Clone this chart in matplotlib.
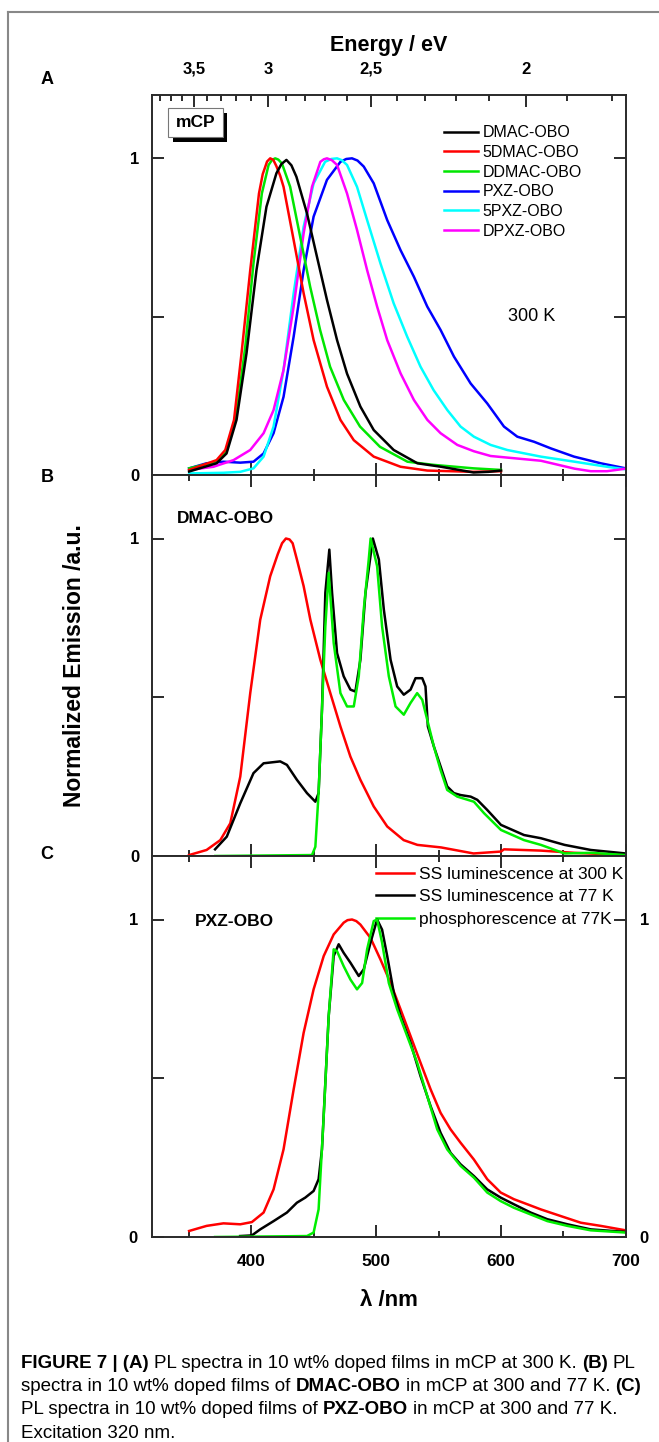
import matplotlib
matplotlib.use("Agg")
import matplotlib.pyplot as plt
from matplotlib.ticker import FixedLocator, FixedFormatter, NullFormatter
from matplotlib.patches import Rectangle
from matplotlib.lines import Line2D

plt.rcParams['font.family'] = ['Liberation Sans', 'DejaVu Sans']

# ---------------- data (wavelength nm, normalized intensity) ----------------
# Panel A : PL spectra at 300 K in mCP
a_dmac_wl = [350, 372, 380, 388, 396, 404, 412, 420, 424, 428, 432, 436, 444.5, 452.5, 460.5, 468.6, 476.6, 487.3, 498, 514, 533, 552, 578, 590, 600]
a_dmac_y = [0.011, 0.037, 0.068, 0.174, 0.384, 0.647, 0.847, 0.953, 0.982, 0.995, 0.978, 0.942, 0.826, 0.689, 0.553, 0.426, 0.32, 0.216, 0.142, 0.079, 0.037, 0.026, 0.008, 0.01, 0.014]
a_5dmac_wl = [350, 372, 379, 386, 392, 399, 406, 409, 412.5, 415, 417.5, 420, 423, 425.7, 433.8, 441.8, 449.8, 460.5, 471.3, 482, 498, 519.5, 541, 578, 600]
a_5dmac_y = [0.016, 0.047, 0.079, 0.174, 0.384, 0.647, 0.889, 0.95, 0.99, 1.0, 0.995, 0.975, 0.945, 0.91, 0.742, 0.574, 0.426, 0.279, 0.174, 0.11, 0.058, 0.026, 0.014, 0.01, 0.012]
a_ddmac_wl = [350, 372, 380, 388, 395, 401.6, 408.3, 413.7, 416.5, 419, 421.5, 424.4, 431, 439, 447, 455, 463, 474, 487, 503, 525, 546, 578, 600]
a_ddmac_y = [0.021, 0.042, 0.074, 0.195, 0.405, 0.668, 0.889, 0.979, 0.995, 1.0, 0.996, 0.984, 0.91, 0.753, 0.595, 0.458, 0.342, 0.237, 0.153, 0.089, 0.042, 0.032, 0.021, 0.016]
a_pxz_wl = [350, 364, 377.5, 391, 401.6, 409.7, 417.7, 425.7, 433.8, 441.8, 449.8, 460.5, 471.3, 476, 480.6, 485, 490, 498, 508.8, 519.5, 530.2, 540.9, 551.6, 562.3, 575.7, 589, 602.4, 613.1, 626.5, 640, 658.6, 680, 700]
a_pxz_y = [0.021, 0.037, 0.042, 0.039, 0.042, 0.068, 0.132, 0.247, 0.437, 0.647, 0.816, 0.932, 0.989, 0.998, 1.0, 0.993, 0.974, 0.921, 0.805, 0.71, 0.626, 0.532, 0.458, 0.374, 0.289, 0.226, 0.153, 0.121, 0.105, 0.084, 0.058, 0.037, 0.021]
a_5pxz_wl = [350, 377.5, 391, 401.6, 409.7, 417.7, 425.7, 433.8, 441.8, 449.8, 459, 464, 468.6, 472.5, 476.6, 484.6, 492.7, 503.4, 514, 524.8, 535.5, 546, 557, 567.6, 578.3, 591.7, 605, 632, 659, 685, 700]
a_5pxz_y = [0.005, 0.007, 0.01, 0.021, 0.058, 0.153, 0.332, 0.574, 0.784, 0.921, 0.989, 0.998, 1.0, 0.994, 0.979, 0.91, 0.805, 0.668, 0.542, 0.437, 0.342, 0.268, 0.205, 0.153, 0.121, 0.095, 0.079, 0.058, 0.042, 0.026, 0.018]
a_dpxz_wl = [350, 369.5, 385.6, 399, 409.7, 417.7, 425.7, 433.8, 441.8, 448.5, 455.2, 458, 460.5, 464.5, 468.6, 476.6, 484.6, 492.7, 500.7, 508.8, 519.5, 530.2, 541, 551.6, 565, 578.3, 591.7, 605, 632, 659, 672, 685, 700]
a_dpxz_y = [0.016, 0.026, 0.047, 0.079, 0.132, 0.205, 0.332, 0.532, 0.763, 0.91, 0.989, 0.997, 1.0, 0.994, 0.979, 0.889, 0.774, 0.647, 0.532, 0.426, 0.321, 0.237, 0.174, 0.132, 0.095, 0.075, 0.06, 0.055, 0.045, 0.02, 0.012, 0.012, 0.02]
a_labels = ['DMAC-OBO', '5DMAC-OBO', 'DDMAC-OBO', 'PXZ-OBO', '5PXZ-OBO', 'DPXZ-OBO']

# Panel B : DMAC-OBO
b_300_wl = [350, 364, 375, 383, 391, 399, 407, 415, 421, 424.5, 427.6, 430.5, 433, 436.4, 441.8, 447.2, 455.2, 463.2, 471.3, 479.3, 487.3, 498, 508.8, 522, 533, 552, 578, 600, 602.4, 632, 659, 700]
b_300_y = [0.003, 0.019, 0.05, 0.103, 0.25, 0.513, 0.744, 0.881, 0.95, 0.985, 1.0, 0.997, 0.985, 0.934, 0.85, 0.744, 0.618, 0.513, 0.408, 0.313, 0.24, 0.156, 0.093, 0.05, 0.035, 0.027, 0.008, 0.014, 0.021, 0.017, 0.01, 0.003]
b_77_wl = [370.8, 380.2, 391, 401.6, 409.7, 423, 428.4, 436.4, 444.5, 451.2, 453.8, 456.5, 459.2, 462.4, 464.6, 468.6, 473.9, 479.3, 483.3, 487.3, 491.4, 497.3, 502.1, 506.1, 511.5, 516.8, 522.1, 527.5, 531.5, 536.9, 539.5, 541.4, 546.2, 551.6, 556.9, 562.3, 567.6, 575.7, 581, 589, 600, 618.5, 632, 651, 672, 700]
b_77_y = [0.021, 0.061, 0.166, 0.261, 0.292, 0.298, 0.287, 0.24, 0.198, 0.171, 0.198, 0.46, 0.829, 0.965, 0.829, 0.639, 0.566, 0.524, 0.518, 0.618, 0.829, 1.0, 0.934, 0.776, 0.618, 0.534, 0.508, 0.524, 0.56, 0.56, 0.534, 0.408, 0.345, 0.282, 0.219, 0.198, 0.192, 0.187, 0.177, 0.145, 0.098, 0.066, 0.056, 0.035, 0.019, 0.008]
b_ph_wl = [371, 448.5, 451.2, 453.8, 456.5, 459.2, 461.9, 465.9, 471.3, 476.6, 482, 486, 490, 494, 495.5, 500.7, 504.7, 510.1, 515.5, 522.1, 527.5, 532.8, 536.9, 540.9, 546.2, 551.6, 556.9, 565, 578.3, 586.4, 600, 618.5, 632, 651, 672, 700]
b_ph_y = [0.0, 0.003, 0.029, 0.198, 0.46, 0.723, 0.892, 0.671, 0.513, 0.471, 0.471, 0.566, 0.776, 0.934, 1.0, 0.913, 0.723, 0.566, 0.471, 0.445, 0.482, 0.513, 0.492, 0.429, 0.345, 0.271, 0.208, 0.187, 0.171, 0.135, 0.082, 0.05, 0.035, 0.008, 0.01, 0.003]

# Panel C : PXZ-OBO
c_300_wl = [350, 364, 377.5, 391, 400.3, 409.7, 417.7, 425.7, 433.8, 441.8, 449.8, 457.9, 465.9, 473.9, 477, 480.6, 484, 487.3, 495.4, 503.4, 511.5, 519.5, 527.5, 535.5, 543.6, 551.6, 559.6, 567.6, 578.3, 589, 599.8, 610.4, 621.2, 631.9, 647.9, 664, 680, 700]
c_300_y = [0.019, 0.035, 0.043, 0.04, 0.047, 0.077, 0.15, 0.276, 0.465, 0.643, 0.78, 0.885, 0.953, 0.99, 0.998, 1.0, 0.995, 0.984, 0.942, 0.874, 0.8, 0.717, 0.633, 0.549, 0.465, 0.391, 0.339, 0.297, 0.244, 0.182, 0.14, 0.119, 0.103, 0.087, 0.066, 0.045, 0.035, 0.021]
c_77_wl = [390.9, 400.3, 407, 417.7, 428.4, 436.4, 443.1, 449.8, 453.8, 456.5, 459.2, 461.9, 465.9, 469.9, 473.9, 479.3, 486, 490, 495.4, 500.7, 504.7, 508.8, 514.1, 519.5, 527.5, 535.5, 543.6, 551.6, 559.6, 567.6, 578.3, 589, 599.8, 610.4, 623.8, 637.2, 653.3, 672, 700]
c_77_y = [0.003, 0.005, 0.024, 0.05, 0.077, 0.108, 0.124, 0.145, 0.182, 0.276, 0.486, 0.696, 0.885, 0.922, 0.895, 0.864, 0.822, 0.843, 0.927, 1.0, 0.968, 0.885, 0.769, 0.696, 0.612, 0.507, 0.412, 0.328, 0.265, 0.229, 0.192, 0.15, 0.124, 0.103, 0.077, 0.056, 0.04, 0.024, 0.016]
c_ph_wl = [370.8, 444.5, 449.8, 453.8, 457.9, 461.9, 465.9, 468.6, 473.9, 479.3, 484.6, 488.7, 492.7, 498, 500.7, 504.7, 510.1, 516.8, 524.8, 532.8, 540.9, 548.9, 556.9, 567.6, 578.3, 589, 599.8, 610.4, 623.8, 637.2, 653.3, 672, 700]
c_ph_y = [0.0, 0.003, 0.014, 0.087, 0.381, 0.696, 0.906, 0.9, 0.853, 0.811, 0.78, 0.8, 0.906, 0.995, 1.0, 0.927, 0.8, 0.717, 0.633, 0.549, 0.444, 0.339, 0.276, 0.224, 0.187, 0.14, 0.113, 0.092, 0.071, 0.05, 0.035, 0.021, 0.014]
bc_labels = ['SS luminescence at 300 K', 'SS luminescence at 77 K', 'phosphorescence at 77K']

x_major = [400, 500, 600, 700]
x_minor = [350, 450, 550, 650]
y_major = [0, 0.5, 1]
y_labels = ['0', '', '1']
e_major = [3.5, 3.0, 2.5, 2.0]
e_labels = ['3,5', '3', '2,5', '2']
e_minor = [3.8, 3.7, 3.6, 3.4, 3.3, 3.2, 3.1, 2.9, 2.8, 2.7, 2.6, 2.4, 2.3, 2.2, 2.1, 1.9, 1.8]

# ---------------- figure ----------------
W_PX, H_PX = 659, 1442
fig = plt.figure(figsize=(W_PX / 100, H_PX / 100), dpi=100)

def fx(p):
    return p / W_PX

def fy(p):
    return 1 - p / H_PX

left, width = fx(151.7), (625.7 - 151.7) / W_PX
axA = fig.add_axes([left, fy(475), width, 380 / H_PX])
axB = fig.add_axes([left, fy(856), width, 381 / H_PX])
axC = fig.add_axes([left, fy(1237), width, 381 / H_PX])

spine_c = '#2a2a2a'
for ax in (axA, axB, axC):
    ax.set_xlim(320, 700)
    ax.set_ylim(0, 1.2)
    ax.xaxis.set_major_locator(FixedLocator(x_major))
    ax.xaxis.set_minor_locator(FixedLocator(x_minor))
    ax.yaxis.set_major_locator(FixedLocator(y_major))
    ax.yaxis.set_major_formatter(FixedFormatter(y_labels))
    ax.tick_params(which='major', direction='in', length=8.8, width=1.4, color=spine_c,
                   top=True, right=True, bottom=True, left=True,
                   labelbottom=False, labelsize=12, pad=9)
    ax.tick_params(which='minor', direction='in', length=4.4, width=1.4, color=spine_c,
                   top=True, bottom=True)
    for s in ax.spines.values():
        s.set_color(spine_c)
        s.set_linewidth(1.4)
    for lab in ax.get_yticklabels():
        lab.set_fontweight('bold')

axA.tick_params(which='both', top=False)
axC.tick_params(which='major', labelbottom=True, labelright=True, pad=10)
axC.tick_params(axis='x', which='major', pad=12)
for t in axC.yaxis.get_ticklabels() + [tk.label2 for tk in axC.yaxis.get_major_ticks()]:
    t.set_fontweight('bold')
for t in axC.xaxis.get_ticklabels():
    t.set_fontweight('bold')
    t.set_fontsize(12.5)

# Energy axis on top of panel A
axE = axA.twiny()
axE.set_xlim(320, 700)
axE.xaxis.set_major_locator(FixedLocator([1239.84 / e for e in e_major]))
axE.xaxis.set_major_formatter(FixedFormatter(e_labels))
axE.xaxis.set_minor_locator(FixedLocator([1239.84 / e for e in e_minor]))
axE.xaxis.set_minor_formatter(NullFormatter())
axE.tick_params(which='major', direction='in', length=8.8, width=1.4, color=spine_c, labelsize=12, pad=13)
axE.tick_params(which='minor', direction='in', length=4.4, width=1.4, color=spine_c)
for t in axE.get_xticklabels():
    t.set_fontweight('bold')
for s in axE.spines.values():
    s.set_visible(False)
axE.set_xlabel('Energy / eV', fontsize=15.5, fontweight='bold', labelpad=8)

# ---- panel A curves
lw = 1.8
colsA = ['#000000', '#ff0000', '#00e600', '#0000ff', '#00ffff', '#ff00ff']
seriesA = [(a_dmac_wl, a_dmac_y), (a_5dmac_wl, a_5dmac_y), (a_ddmac_wl, a_ddmac_y),
           (a_pxz_wl, a_pxz_y), (a_5pxz_wl, a_5pxz_y), (a_dpxz_wl, a_dpxz_y)]
order = [3, 4, 5, 2, 1, 0]
handlesA = [None] * 6
for i in order:
    wl, yy = seriesA[i]
    ln, = axA.plot(wl, yy, color=colsA[i], lw=lw, label=a_labels[i])
    handlesA[i] = ln
axA.legend(handlesA, a_labels, loc='upper left', bbox_to_anchor=(0.617, 0.92),
           frameon=False, fontsize=11.5, handlelength=2.1, handletextpad=0.3,
           labelspacing=0.29, borderpad=0, borderaxespad=0)
axA.text(0.802, 0.416, '300 K', transform=axA.transAxes, fontsize=13, ha='center', va='center')

# mCP label box with drop shadow
bx0, bx1 = fx(168.3), fx(222.7)
by0, by1 = fy(136.7), fy(108.3)
fig.patches.append(Rectangle((bx0 + fx(4.5), by0 - 5 / H_PX), bx1 - bx0, by1 - by0,
                             transform=fig.transFigure, facecolor='black', edgecolor='none', zorder=5))
fig.patches.append(Rectangle((bx0, by0), bx1 - bx0, by1 - by0, transform=fig.transFigure,
                             facecolor='white', edgecolor='#777777', lw=0.8, zorder=6))
fig.text((bx0 + bx1) / 2, (by0 + by1) / 2, 'mCP', fontsize=12.5, fontweight='bold',
         ha='center', va='center', zorder=7)

# ---- panel B curves
colsBC = ['#ff0000', '#000000', '#00ee00']
axB.plot(b_300_wl, b_300_y, color=colsBC[0], lw=lw)
axB.plot(b_77_wl, b_77_y, color=colsBC[1], lw=lw)
axB.plot(b_ph_wl, b_ph_y, color=colsBC[2], lw=lw)
axB.text(0.053, 0.885, 'DMAC-OBO', transform=axB.transAxes, fontsize=12.5, fontweight='bold',
         ha='left', va='center')

# ---- panel C curves
hC = []
hC.append(axC.plot(c_300_wl, c_300_y, color=colsBC[0], lw=lw)[0])
hC.append(axC.plot(c_77_wl, c_77_y, color=colsBC[1], lw=lw)[0])
hC.append(axC.plot(c_ph_wl, c_ph_y, color=colsBC[2], lw=lw)[0])
axC.text(0.091, 0.829, 'PXZ-OBO', transform=axC.transAxes, fontsize=12.5, fontweight='bold',
         ha='left', va='center')
legC = axC.legend(hC, bc_labels, loc='upper left', bbox_to_anchor=(0.473, 0.972),
                  frameon=False, fontsize=12.5, handlelength=2.2, handletextpad=0.3,
                  labelspacing=0.43, borderpad=0, borderaxespad=0)
legC.set_zorder(1)

# ---- shared labels
fig.text(fx(75), fy(666), 'Normalized Emission /a.u.', rotation=90, fontsize=16.5,
         fontweight='bold', ha='center', va='center')
fig.text(fx(388.7), fy(1300), 'λ /nm', fontsize=16, fontweight='bold', ha='center', va='center')
for letter, yp in (('A', 80), ('B', 477), ('C', 855)):
    fig.text(fx(47), fy(yp), letter, fontsize=13, fontweight='bold', ha='center', va='center')

# ---- outer frame
fig.add_artist(Line2D([fx(8), fx(8)], [fy(12), 0], transform=fig.transFigure, color='#888888', lw=1.5))
fig.add_artist(Line2D([fx(8), 1], [fy(12), fy(12)], transform=fig.transFigure, color='#888888', lw=1.5))

# ---- caption with mixed weights
cap_family = ['Liberation Sans', 'DejaVu Sans']
cap_size = 13.5
caption = [
    [("FIGURE 7 | (A)", True), (" PL spectra in 10 wt% doped films in mCP at 300 K. ", False), ("(B)", True), (" PL", False)],
    [("spectra in 10 wt% doped films of ", False), ("DMAC-OBO", True), (" in mCP at 300 and 77 K. ", False), ("(C)", True)],
    [("PL spectra in 10 wt% doped films of ", False), ("PXZ-OBO", True), (" in mCP at 300 and 77 K.", False)],
    [("Excitation 320 nm.", False)],
]
renderer = fig.canvas.get_renderer()
sp = fig.text(0, 0, 'a a', fontsize=cap_size, family=cap_family)
sp2 = fig.text(0, 0, 'aa', fontsize=cap_size, family=cap_family)
space_w = sp.get_window_extent(renderer).width - sp2.get_window_extent(renderer).width
sp.remove()
sp2.remove()
for li, line in enumerate(caption):
    xp = 21.0
    yp = 1363 + li * 23.5
    for txt, bold in line:
        lead = len(txt) - len(txt.lstrip(' '))
        trail = len(txt) - len(txt.rstrip(' '))
        core = txt.strip(' ')
        xp += lead * space_w
        t = fig.text(fx(xp), fy(yp), core, fontsize=cap_size, family=cap_family,
                     fontweight='bold' if bold else 'normal', ha='left', va='center')
        xp += t.get_window_extent(renderer).width + trail * space_w

fig.savefig('out.png', dpi=100)
